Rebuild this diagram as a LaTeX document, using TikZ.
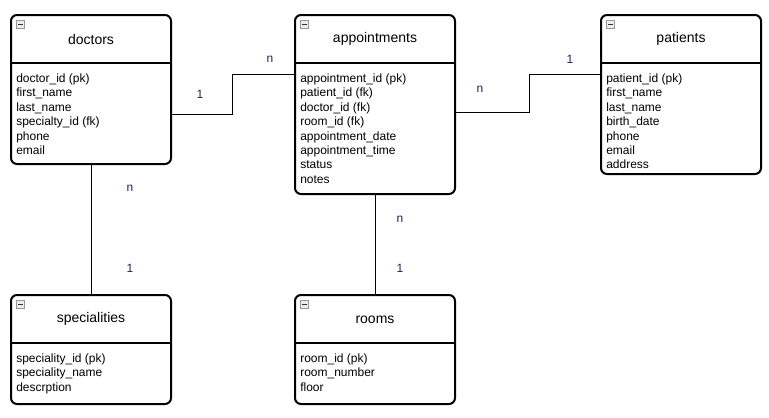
\documentclass[tikz,border=0pt]{standalone}
\usepackage{fontspec}
\setmainfont{Liberation Sans}
\usetikzlibrary{positioning,calc}
\definecolor{cardblue}{RGB}{28,36,88}
\definecolor{icongray}{RGB}{150,150,160}
\tikzset{>=latex}

\begin{document}
\begin{tikzpicture}[x=0.75pt, y=-0.75pt,
	entity/.style={draw, line width=1.5pt, rounded corners=4.5pt, minimum width=120pt, anchor=north west, inner sep=0},
	title/.style={font=\fontsize{10.5pt}{12pt}\selectfont},
	fields/.style={anchor=north west, align=left, inner sep=0, font=\fontsize{9pt}{10.85pt}\selectfont},
	sepline/.style={line width=1.5pt},
	link/.style={line width=0.75pt},
	card/.style={text=cardblue, font=\fontsize{9pt}{10.9pt}\selectfont},
	icon/.style={draw=icongray, fill=gray!15, line width=0.5pt, minimum size=5.6pt, inner sep=0,
		path picture={\draw[line width=0.8pt,black!80] ([xshift=1.1pt]path picture bounding box.west) -- ([xshift=-1.1pt]path picture bounding box.east);}}]
	\useasboundingbox (0,0) rectangle (769,418);

	% tables
	\node[entity,minimum height=111.75pt] (doctors) at (10,14) {};
	\node[entity,minimum height=134.25pt] (appointments) at (294,14) {};
	\node[entity,minimum height=119.25pt] (patients) at (600,14) {};
	\node[entity,minimum height=81.75pt] (specialities) at (10,294) {};
	\node[entity,minimum height=81.75pt] (rooms) at (294,294) {};

	\foreach \t in {doctors,appointments,patients,specialities,rooms} {
		\draw[sepline] ([yshift=-36.75pt]\t.north west) -- ([yshift=-36.75pt]\t.north east);
		\node[icon] at ([xshift=7.8pt,yshift=-7.8pt]\t.north west) {};
		\node[title] at ([yshift=-19pt]\t.north) {\t};
	}

	% columns
	\node[fields] (doctorsf) at ([xshift=4.5pt,yshift=-44.4pt]doctors.north west) {doctor\_id (pk)\\first\_name\\last\_name\\specialty\_id (fk)\\phone\\email};
	\node[fields] (appointmentsf) at ([xshift=4.5pt,yshift=-44.4pt]appointments.north west) {appointment\_id (pk)\\patient\_id (fk)\\doctor\_id (fk)\\room\_id (fk)\\appointment\_date\\appointment\_time\\status\\notes};
	\node[fields] (patientsf) at ([xshift=4.5pt,yshift=-44.4pt]patients.north west) {patient\_id (pk)\\first\_name\\last\_name\\birth\_date\\phone\\email\\address};
	\node[fields] (specialitiesf) at ([xshift=4.5pt,yshift=-44.4pt]specialities.north west) {speciality\_id (pk)\\speciality\_name\\descrption};
	\node[fields] (roomsf) at ([xshift=4.5pt,yshift=-44.4pt]rooms.north west) {room\_id (pk)\\room\_number\\floor};

	% relations
	\draw[link] ([yshift=-75pt]doctors.north east) -- ++(45pt,0) |- ([yshift=-45pt]appointments.north west);
	\draw[link] ([yshift=-73.5pt]appointments.north east) -- ++(54.75pt,0) |- ([yshift=-45pt]patients.north west);
	\draw[link] (doctors.south) -- (specialities.north);
	\draw[link] (appointments.south) -- (rooms.north);

	% cardinalities
	\node[card] (c1) at (200,94) {1};
	\node[card] (c2) at (270,59) {n};
	\node[card] (c3) at (480,89) {n};
	\node[card] (c4) at (570,59) {1};
	\node[card] (c5) at (130,188) {n};
	\node[card] (c6) at (130,268) {1};
	\node[card] (c7) at (400,219) {n};
	\node[card] (c8) at (400,268) {1};
\end{tikzpicture}
\end{document}
